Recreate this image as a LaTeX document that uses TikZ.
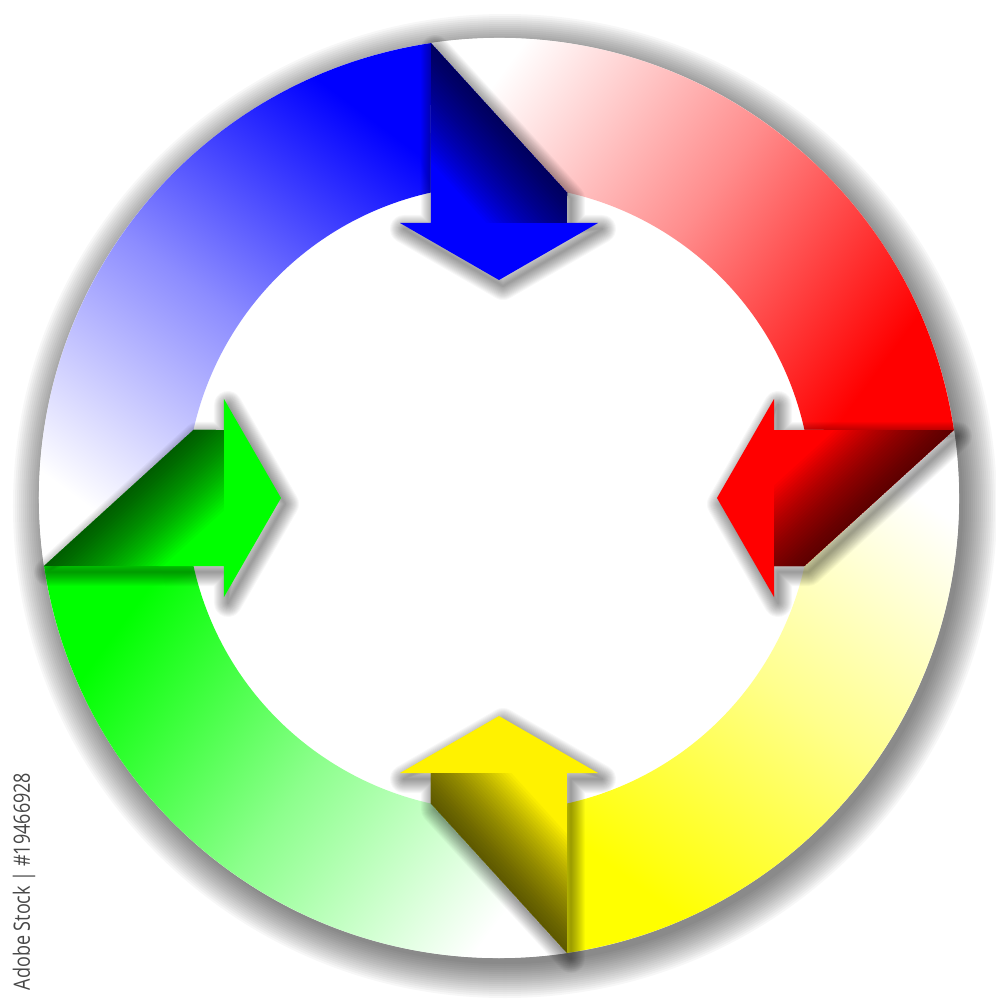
\documentclass[tikz,border=0pt]{standalone}
\usepackage{fontspec}
\newfontfamily\creditfont[FakeStretch=0.8]{Open Sans}
\usepackage{tikz}
\usetikzlibrary{calc}
\newcommand\ringpart[3]{\shade[bottom color=white, top color=#1, middle color=#1!45!white, shading angle=#3] (#2+98.5:460) arc[start angle=#2+98.5, end angle=#2+188.5, radius=460] -- (#2+192.55:313) arc[start angle=#2+192.55, end angle=#2+102.55, radius=313] -- cycle;}
\newcommand\arrowpath[1]{(#1+98.5:460) -- (#1+77.45:313) -- (#1+76.11:283.3) -- (#1+70.2:292.3) -- (#1+90:218) -- (#1+109.8:292.3) -- (#1+103.89:283.3) -- cycle}
\newcommand\pointer[2]{\coordinate (#1 fold) at (#2+98.5:460); \coordinate (#1 end) at (#2+77.45:313);
\foreach \w in {0.2,0.4,...,2.8} \draw[softshadow, line width=\w mm] [shift={(4,-6)}] \arrowpath{#2};
\fill[#1] \arrowpath{#2};
\begin{scope}
\clip (#1 fold) -- (#1 end) -- (#2+76.11:283.3) -- (#2+103.89:283.3) -- cycle;
\coordinate (#1 e1) at ($(#1 fold)!-0.5!(#1 end)$); \coordinate (#1 e2) at ($(#1 fold)!1.5!(#1 end)$);
\foreach \d in {0.25,0.5,...,8} \fill[fold] (#1 e1) -- (#1 e2) -- ($(#1 e2)!\d mm!90:(#1 e1)$) -- ($(#1 e1)!\d mm!-90:(#1 e2)$) -- cycle;
\end{scope}}

\begin{document}
\begin{tikzpicture}[x=0.1mm,y=0.1mm]
\tikzstyle{softshadow}=[black,opacity=.03,line join=round]
\tikzstyle{fold}=[black,opacity=.026]
\tikzstyle{credit}=[font=\creditfont\fontsize{6.4}{7}\selectfont,text=black!72,inner sep=0pt,rotate=90]
\fill[white] (-499,-502) rectangle (497,498);
\useasboundingbox (-499,-502) rectangle (497,498);
\foreach \s in {2,4,...,36} \fill[softshadow] (6,-8) circle[radius=456+\s];
\fill[white] (0,0) circle[radius=460];
\ringpart{blue}{0}{-36.5}
\ringpart{red}{-90}{-126.5}
\ringpart{yellow}{-180}{-216.5}
\ringpart{green}{-270}{-306.5}
\pointer{blue}{0}
\pointer{red}{-90}
\pointer{yellow}{-180}
\pointer{green}{-270}
\node[credit] (credit) at (-475,-383.5) {Adobe Stock | \#19466928};
\end{tikzpicture}
\end{document}
